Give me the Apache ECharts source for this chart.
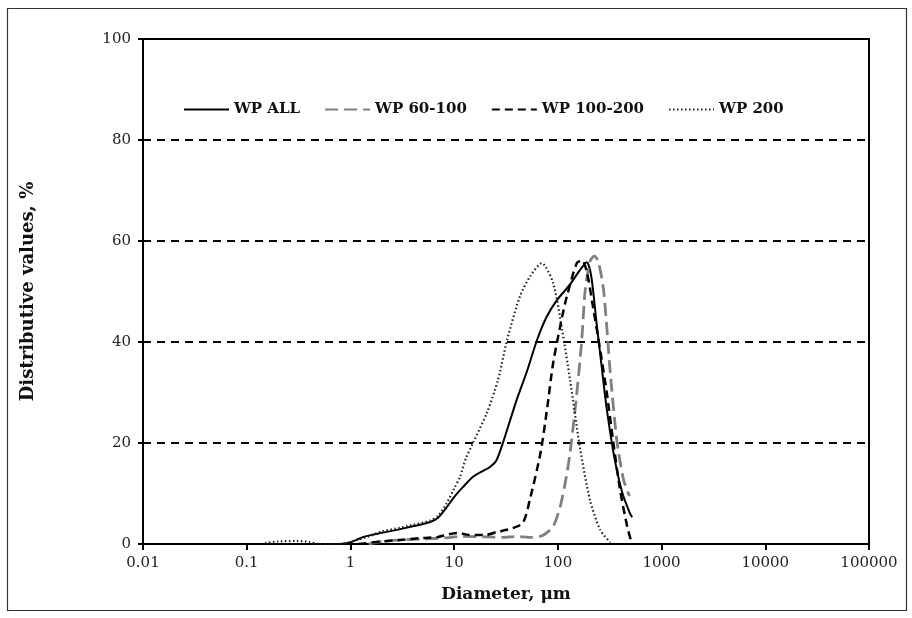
<!DOCTYPE html>
<html>
<head>
<meta charset="utf-8">
<script src="https://cdn.jsdelivr.net/npm/echarts@6/dist/echarts.min.js"></script>
<style>
  html, body { margin: 0; padding: 0; background: #fff; }
  #chart { width: 912px; height: 618px; }
</style>
</head>
<body>
<div id="chart"></div>
<script>
// Particle size distributions (diameter in µm, distributive value in %)
const seriesNames = ['WP ALL', 'WP 60-100', 'WP 100-200', 'WP 200'];

const allDiam = [0.8, 1.0, 1.33, 2.0, 2.8, 4.0, 5.8, 7.0, 8.5, 10, 12.2, 15.2, 19, 22, 25.6, 29.5, 40, 50, 63, 78, 98, 130, 160, 190, 210, 236, 265, 295, 350, 420, 495, 520];
const allVal  = [0, 0.3, 1.4, 2.2, 2.8, 3.5, 4.3, 5.2, 7.3, 9.3, 11.3, 13.3, 14.5, 15.2, 16.6, 20, 28.5, 34, 40.4, 45, 48.3, 51.3, 54, 55.8, 53, 43.8, 35, 27, 17.2, 10, 6.1, 5.3];

const d60Diam = [1.5, 2, 3, 5, 8, 12, 20, 30, 40, 55, 70, 80, 90, 105, 120, 131, 150, 170, 183, 204, 225, 245, 277, 320, 370, 430, 490];
const d60Val  = [0, 0.5, 0.8, 1.0, 1.2, 1.5, 1.4, 1.3, 1.5, 1.3, 1.6, 2.4, 3.4, 7.3, 13, 18, 28.5, 40.4, 50, 56, 57, 56, 50, 34, 20.6, 12.7, 9.5];

const d100Diam = [1.2, 2, 3, 5, 7, 10.7, 14, 20, 26, 35, 46, 54, 68, 79, 90, 110, 122, 152, 170, 190, 218, 256, 296, 340, 398, 467, 510];
const d100Val  = [0, 0.5, 0.8, 1.2, 1.4, 2.2, 1.8, 1.8, 2.4, 3, 4.2, 9, 18, 27, 35.8, 45, 49, 55.6, 56.2, 54, 47, 38.4, 30, 20.6, 10.7, 3.4, 0.5];

const d200Diam = [0.15, 0.2, 0.3, 0.4, 0.5, 0.85, 1.0, 1.5, 2.0, 3, 4, 5.8, 7.0, 8.5, 10, 11.4, 13, 15.2, 20.7, 26.5, 32.4, 43, 54, 70, 90, 110, 131, 163, 204, 256, 320];
const d200Val  = [0.2, 0.5, 0.6, 0.4, 0, 0, 0.4, 1.5, 2.5, 3.2, 3.8, 4.6, 5.6, 8.1, 11, 13.3, 17, 20, 26, 32.5, 40.4, 49, 53, 55.6, 51.7, 42.4, 32.5, 19.2, 8.7, 2.8, 0.3];

const xTickLabels = ['0.01', '0.1', '1', '10', '100', '1000', '10000', '100000'];
const yTickValues = [0, 20, 40, 60, 80, 100];

const pairs = (xs, ys) => xs.map((x, i) => [x, ys[i]]);

const serif = 'DejaVu Serif';

const lineSeries = (name, data, style) => ({
  name: name,
  type: 'line',
  data: data,
  symbol: 'none',
  smooth: 0.25,
  lineStyle: style,
  itemStyle: { color: style.color },
  z: 3
});

const chart = echarts.init(document.getElementById('chart'), null, { renderer: 'canvas' });

chart.setOption({
  animation: false,
  backgroundColor: '#fff',
  graphic: [{
    type: 'rect',
    shape: { x: 7.5, y: 8.5, width: 899, height: 602 },
    style: { fill: 'none', stroke: '#333', lineWidth: 1.2 },
    z: -1
  }],
  grid: {
    left: 143, top: 39, right: 43, bottom: 74,
    show: true, borderColor: '#000', borderWidth: 2, backgroundColor: 'transparent'
  },
  legend: {
    left: 183, top: 102, padding: 0,
    itemWidth: 45, itemHeight: 12, itemGap: 24,
    itemStyle: { opacity: 0 },
    textStyle: { fontFamily: serif, fontSize: 15, fontWeight: 'bold', color: '#111' },
    data: seriesNames
  },
  xAxis: {
    type: 'log', logBase: 10, min: 0.01, max: 100000, splitNumber: 7,
    name: 'Diameter, μm', nameLocation: 'middle', nameGap: 42,
    nameTextStyle: { fontFamily: serif, fontSize: 17, fontWeight: 'bold', color: '#111' },
    axisLine: { lineStyle: { color: '#000', width: 2 } },
    axisTick: { show: true, length: 6, lineStyle: { color: '#000', width: 2 } },
    minorTick: { show: false },
    splitLine: { show: false },
    axisLabel: {
      fontFamily: serif, fontSize: 15, color: '#222', margin: 12,
      formatter: v => xTickLabels[Math.round(Math.log10(v)) + 2] || ''
    }
  },
  yAxis: {
    type: 'value', min: 0, max: 100, interval: 20,
    name: 'Distributive values, %', nameLocation: 'middle', nameGap: 106,
    nameTextStyle: { fontFamily: serif, fontSize: 18, fontWeight: 'bold', color: '#111' },
    axisLine: { show: true, lineStyle: { color: '#000', width: 2 } },
    axisTick: { show: true, length: 5, lineStyle: { color: '#000', width: 2 } },
    splitLine: { show: true, lineStyle: { color: '#000', width: 2, type: [8, 6] } },
    axisLabel: {
      fontFamily: serif, fontSize: 15, color: '#222', margin: 12,
      formatter: v => yTickValues.includes(v) ? String(v) : ''
    }
  },
  series: [
    lineSeries(seriesNames[0], pairs(allDiam, allVal),   { color: '#000', width: 2, type: 'solid' }),
    lineSeries(seriesNames[1], pairs(d60Diam, d60Val),   { color: '#808080', width: 2.8, type: [13, 6] }),
    lineSeries(seriesNames[2], pairs(d100Diam, d100Val), { color: '#000', width: 2.5, type: [8, 5] }),
    lineSeries(seriesNames[3], pairs(d200Diam, d200Val), { color: '#222', width: 2.2, type: [1.5, 2.5] })
  ]
});
</script>
</body>
</html>
